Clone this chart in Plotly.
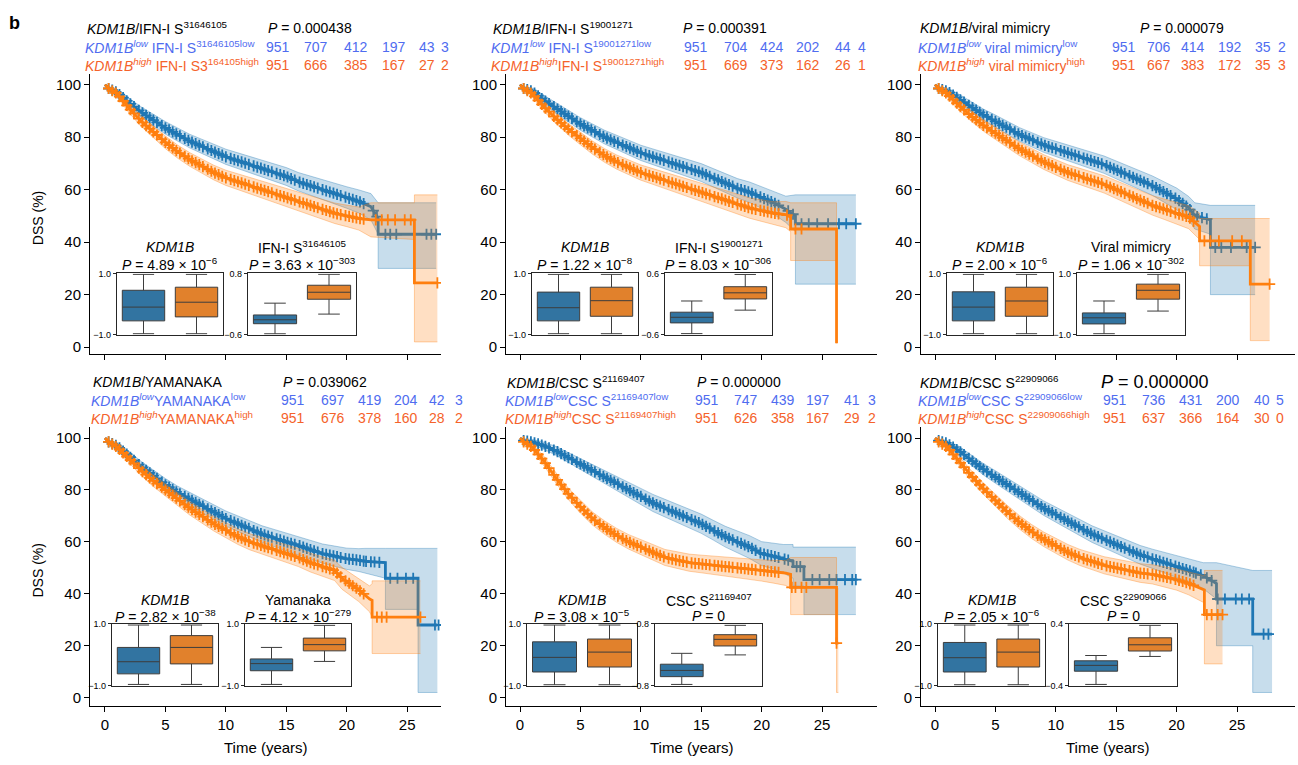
import numpy as np
import plotly.graph_objects as go

W, H = 1298, 765
FONT = "Liberation Sans, Arial, Helvetica, sans-serif"
KM_BLUE, KM_ORANGE = "#1f77b4", "#ff7f0e"
BAND_BLUE, BAND_ORANGE = "rgba(31,119,180,0.25)", "rgba(255,127,14,0.25)"
EDGE_BLUE, EDGE_ORANGE = "rgba(31,119,180,0.35)", "rgba(255,127,14,0.35)"
BOX_BLUE, BOX_ORANGE = "#3274a1", "#e1812c"
TXT_BLUE, TXT_ORANGE = "#4f6cf0", "#f5622a"

# ---------------- Kaplan-Meier data (time in years, DSS %) ----------------
BODY_CENSOR = [0.3, 0.6, 0.9, 1.2, 1.5, 1.8, 2.1, 2.4, 2.8, 3.1, 3.4, 3.7, 4.0, 4.3, 4.7, 5.0,
               5.3, 5.6, 5.9, 6.2, 6.6, 6.9, 7.2, 7.5, 7.8, 8.1, 8.5, 8.8, 9.1, 9.4, 9.7, 10.0,
               10.4, 10.7, 11.0, 11.3, 11.6, 11.9, 12.3, 12.6, 12.9, 13.2, 13.5, 13.8, 14.2,
               14.5, 14.8, 15.1, 15.4, 15.7, 16.1, 16.4, 16.7, 17.0, 17.3, 17.6, 18.0, 18.3,
               18.6, 18.9, 19.2, 19.5, 19.9, 20.2, 20.5, 20.8, 21.1, 21.4]

# Panel 1: IFN-I S31646105
P1_LOW_T = [0, .3, 1, 2, 3, 4, 5, 6, 7, 8, 9, 10, 11, 12, 13, 14, 15, 16, 17, 18, 19, 20, 21, 22, 22.6, 22.6, 27.4]
P1_LOW_S = [100, 98.5, 97, 93, 89.5, 86.5, 83.5, 81, 78.5, 76.5, 74.5, 72.5, 71, 69.5, 68, 66.5, 65, 63, 61.5, 60, 58.5, 57, 55.5, 53.5, 49, 43, 43]
P1_LOW_LO = [100, 97.7, 95.8, 91.2, 87.5, 84.3, 81.1, 78.5, 75.9, 73.8, 71.7, 69.6, 68, 66.4, 64.8, 63.2, 61.6, 59.5, 57.9, 56.3, 54.6, 52.9, 51.1, 48.5, 43, 30, 30]
P1_LOW_HI = [100, 99.3, 98.2, 94.8, 91.5, 88.7, 85.9, 83.5, 81.1, 79.2, 77.3, 75.4, 74, 72.6, 71.2, 69.8, 68.4, 66.5, 65.1, 63.7, 62.4, 61.1, 59.9, 58.5, 55, 55, 55]
P1_LOW_TAILC = [22.2, 22.5, 23.2, 23.6, 24.1, 26.6, 27.0, 27.4]
P1_HIGH_T = [0, .3, 1, 2, 3, 4, 5, 6, 7, 8, 9, 10, 11, 12, 13, 14, 15, 16, 17, 18, 19, 20, 21, 22, 25.6, 25.6, 27.5]
P1_HIGH_S = [100, 98.5, 96.5, 91, 86, 82, 78, 74.5, 71.5, 69, 66.5, 64.5, 63, 61.5, 60, 58.5, 57, 55.5, 54, 52.5, 51, 50, 49, 48.5, 48.5, 24.5, 24.5]
P1_HIGH_LO = [100, 97.7, 95.3, 89.2, 84, 79.8, 75.6, 72, 68.9, 66.3, 63.7, 61.6, 60, 58.4, 56.8, 55.2, 53.6, 52, 50.4, 48.8, 47.1, 45.9, 44.6, 42, 41, 2, 2]
P1_HIGH_HI = [100, 99.3, 97.7, 92.8, 88, 84.2, 80.4, 77, 74.1, 71.7, 69.3, 67.4, 66, 64.6, 63.2, 61.8, 60.4, 59, 57.6, 56.2, 54.9, 54.1, 53.4, 55, 55, 58, 58]
P1_HIGH_TAILC = [22.4, 22.9, 23.4, 24.0, 24.8, 25.3, 27.5]

# Panel 2: IFN-I S19001271
P2_LOW_T = [0, .3, 1, 2, 3, 4, 5, 6, 7, 8, 9, 10, 11, 12, 13, 14, 15, 16, 17, 18, 19, 20, 21, 22, 22.8, 22.8, 27.8]
P2_LOW_S = [100, 98.5, 97.5, 94, 91, 88, 85, 82.5, 80, 78, 76, 74, 72.5, 71, 69.5, 68, 66.5, 64.5, 62.5, 60.5, 59, 57, 55, 52.5, 50, 47, 47]
P2_LOW_LO = [100, 97.7, 96.3, 92.2, 89, 85.8, 82.6, 80, 77.4, 75.3, 73.2, 71.1, 69.5, 67.9, 66.3, 64.7, 63.1, 61, 58.9, 56.8, 55.1, 52.9, 50.6, 47.5, 44, 24, 24]
P2_LOW_HI = [100, 99.3, 98.7, 95.8, 93, 90.2, 87.4, 85, 82.6, 80.7, 78.8, 76.9, 75.5, 74.1, 72.7, 71.3, 69.9, 68, 66.1, 64.2, 62.9, 61.1, 59.4, 57.5, 58, 58, 58]
P2_LOW_TAILC = [22.2, 22.6, 23.3, 23.9, 24.6, 25.5, 26.4, 27.0, 27.8]
P2_HIGH_T = [0, .3, 1, 2, 3, 4, 5, 6, 7, 8, 9, 10, 11, 12, 13, 14, 15, 16, 17, 18, 19, 20, 21, 22, 22.4, 22.4, 26.2, 26.2]
P2_HIGH_S = [100, 98.5, 96.5, 91.5, 87, 83, 79.5, 76, 73, 70.5, 68.5, 66.5, 65, 63.5, 62, 60.5, 59, 57.5, 56, 54.5, 53, 52, 51, 50.5, 49.5, 45, 45, 1.5]
P2_HIGH_LO = [100, 97.7, 95.3, 89.7, 85, 80.8, 77.1, 73.5, 70.4, 67.8, 65.7, 63.6, 62, 60.4, 58.8, 57.2, 55.6, 54, 52.4, 50.8, 49.1, 47.9, 46.6, 45.5, 44, 33, 33, 1.5]
P2_HIGH_HI = [100, 99.3, 97.7, 93.3, 89, 85.2, 81.9, 78.5, 75.6, 73.2, 71.3, 69.4, 68, 66.6, 65.2, 63.8, 62.4, 61, 59.6, 58.2, 56.9, 56.1, 55.4, 55.5, 55, 55, 55, 1.5]
P2_HIGH_TAILC = [22.1, 22.8, 23.3]

# Panel 3: viral mimicry
P3_LOW_T = [0, .3, 1, 2, 3, 4, 5, 6, 7, 8, 9, 10, 11, 12, 13, 14, 15, 16, 17, 18, 19, 20, 21, 21.5, 22.8, 22.8, 26.5]
P3_LOW_S = [100, 98.5, 97.5, 94.5, 91.5, 88.5, 86, 83.5, 81, 79, 77, 75.5, 74, 72.5, 71, 69.5, 67.5, 65.5, 63.5, 61.5, 59, 56.5, 53, 50, 48.5, 38, 38]
P3_LOW_LO = [100, 97.7, 96.3, 92.7, 89.5, 86.3, 83.6, 81, 78.4, 76.3, 74.2, 72.6, 71, 69.4, 67.8, 66.2, 64.1, 62, 59.9, 57.8, 55.1, 52.4, 48.6, 45, 43, 20, 20]
P3_LOW_HI = [100, 99.3, 98.7, 96.3, 93.5, 90.7, 88.4, 86, 83.6, 81.7, 79.8, 78.4, 77, 75.6, 74.2, 72.8, 70.9, 69, 67.1, 65.2, 62.9, 60.6, 57.4, 55, 54, 54, 54]
P3_LOW_TAILC = [21.7, 22.1, 22.5, 23.2, 23.7, 24.5, 25.8, 26.5]
P3_HIGH_T = [0, .3, 1, 2, 3, 4, 5, 6, 7, 8, 9, 10, 11, 12, 13, 14, 15, 16, 17, 18, 19, 20, 21, 21.9, 21.9, 26.1, 26.1, 27.7]
P3_HIGH_S = [100, 98.5, 96.5, 92, 88, 84.5, 81.5, 78.5, 75.5, 73, 70.5, 68.5, 66.5, 65, 63.5, 62, 60, 58, 56, 54, 52.5, 51, 49.5, 46, 40.5, 40.5, 24, 24]
P3_HIGH_LO = [100, 97.7, 95.3, 90.2, 86, 82.3, 79.1, 76, 72.9, 70.3, 67.7, 65.6, 63.5, 61.9, 60.3, 58.7, 56.6, 54.5, 52.4, 50.3, 48.6, 46.9, 45.1, 41, 31, 31, 2.5, 2.5]
P3_HIGH_HI = [100, 99.3, 97.7, 93.8, 90, 86.7, 83.9, 81, 78.1, 75.7, 73.3, 71.4, 69.5, 68.1, 66.7, 65.3, 63.4, 61.5, 59.6, 57.7, 56.4, 55.1, 53.9, 51, 49, 49, 49, 49]
P3_HIGH_TAILC = [22.3, 22.8, 23.5, 24.6, 25.4, 27.7]

# Panel 4: YAMANAKA
P4_LOW_T = [0, .3, 1, 2, 3, 4, 5, 6, 7, 8, 9, 10, 11, 12, 13, 14, 15, 16, 17, 18, 19, 20, 21, 21.5, 23.2, 23.2, 25.9, 25.9, 27.5]
P4_LOW_S = [100, 98.5, 97, 93, 89, 85.5, 82, 79, 76.5, 74, 71.5, 69, 67, 65, 63, 61.5, 60, 58.7, 57, 55.5, 54.5, 53.5, 53, 52.5, 52, 46, 46, 28, 28]
P4_LOW_LO = [100, 97.7, 95.8, 91.2, 87, 83.3, 79.6, 76.5, 73.9, 71.3, 68.7, 66.1, 64, 61.9, 59.8, 58.2, 56.6, 55.2, 53.4, 51.8, 50.6, 49.4, 48.6, 48, 46, 34, 34, 2, 2]
P4_LOW_HI = [100, 99.3, 98.2, 94.8, 91, 87.7, 84.4, 81.5, 79.1, 76.7, 74.3, 71.9, 70, 68.1, 66.2, 64.8, 63.4, 62.2, 60.6, 59.2, 58.4, 57.6, 57.4, 57.5, 57.5, 57.5, 57.5, 57.5, 57.5]
P4_LOW_TAILC = [21.6, 22.0, 22.3, 22.7, 23.6, 24.2, 24.9, 25.5, 27.3, 27.6]
P4_HIGH_T = [0, .3, 1, 2, 3, 4, 5, 6, 7, 8, 9, 10, 11, 12, 13, 14, 15, 16, 17, 18, 19, 19.6, 21, 21.9, 22.1, 22.1, 26.1]
P4_HIGH_S = [100, 98.5, 96.5, 92, 87.5, 83.5, 80, 76.5, 73, 70, 67, 64.5, 62, 60, 58.5, 57, 55.5, 54, 52, 50.5, 49, 46, 41.5, 38, 37.5, 31, 31]
P4_HIGH_LO = [100, 97.7, 95.3, 90.2, 85.5, 81.3, 77.6, 74, 70.4, 67.3, 64.2, 61.6, 59, 56.9, 55.3, 53.7, 52.1, 50.5, 48.4, 46.8, 45.1, 41.8, 37, 33, 31, 17, 17]
P4_HIGH_HI = [100, 99.3, 97.7, 93.8, 89.5, 85.7, 82.4, 79, 75.6, 72.7, 69.8, 67.4, 65, 63.1, 61.7, 60.3, 58.9, 57.5, 55.6, 54.2, 52.9, 50.2, 46, 43, 44, 45, 45]
P4_HIGH_TAILC = [22.5, 22.9, 23.3, 26.1]

# Panel 5: CSC S21169407
P5_LOW_T = [0, .3, 1, 2, 3, 4, 5, 6, 7, 8, 9, 10, 11, 12, 13, 14, 15, 16, 17, 18, 19, 20, 21, 21.8, 22.6, 22.6, 23.5, 23.5, 27.8]
P5_LOW_S = [100, 99, 98.5, 97, 95, 92.5, 90, 87.5, 85, 82.5, 80, 77.5, 75, 73, 71, 69, 67, 64.5, 62, 60, 58, 55.5, 54.5, 53.5, 52.5, 50.5, 50.5, 45.5, 45.5]
P5_LOW_LO = [100, 98.3, 97.5, 95.6, 93.3, 90.6, 87.9, 85.2, 82.5, 79.8, 77.1, 74.4, 71.7, 69.6, 67.5, 65.4, 63.3, 60.7, 58, 55.8, 53.6, 50.9, 49.5, 48, 46, 43, 43, 32, 32]
P5_LOW_HI = [100, 99.7, 99.5, 98.4, 96.7, 94.4, 92.1, 89.8, 87.5, 85.2, 82.9, 80.6, 78.3, 76.4, 74.5, 72.6, 70.7, 68.3, 66, 64.2, 62.4, 60.1, 59.5, 59, 59, 58, 58, 58, 58]
P5_LOW_TAILC = [21.9, 22.2, 22.9, 23.2, 24.2, 24.8, 25.6, 26.2, 26.9, 27.5, 27.8]
P5_HIGH_T = [0, .3, 1, 2, 3, 4, 5, 6, 7, 8, 9, 10, 11, 12, 13, 14, 15, 16, 17, 18, 19, 20, 21, 22, 22.4, 22.4, 26.2, 26.2, 26.35]
P5_HIGH_S = [100, 98.5, 96.5, 91, 84.5, 78.5, 73.5, 69, 65.5, 62.5, 60, 58, 56, 54, 53, 52, 51.5, 51, 50.5, 50, 49.5, 49, 48.5, 48, 47.5, 42.5, 42.5, 21, 21]
P5_HIGH_LO = [100, 97.7, 95.3, 89.2, 82.5, 76.3, 71.1, 66.5, 62.9, 59.8, 57.2, 55.1, 53, 50.9, 49.8, 48.7, 48.1, 47.5, 46.9, 46.3, 45.6, 44.9, 44.1, 43.2, 42, 32, 32, 2, 2]
P5_HIGH_HI = [100, 99.3, 97.7, 92.8, 86.5, 80.7, 75.9, 71.5, 68.1, 65.2, 62.8, 60.9, 59, 57.1, 56.2, 55.3, 54.9, 54.5, 54.1, 53.7, 53.4, 53.1, 52.9, 52.8, 54, 54, 54, 42, 42]
P5_HIGH_TAILC = [22.5, 22.8, 23.3, 23.7, 26.2]

# Panel 6: CSC S22909066
P6_LOW_T = [0, .3, 1, 2, 3, 4, 5, 6, 7, 8, 9, 10, 11, 12, 13, 14, 15, 16, 17, 18, 19, 20, 21, 22.2, 23.3, 23.3, 26.3, 26.3, 27.9]
P6_LOW_S = [100, 99, 98, 95, 91.5, 88, 85, 82, 79, 76, 73, 70.5, 68, 65.5, 63, 61, 59, 57, 55, 53.5, 52, 50.5, 49, 47, 44, 38, 38, 24.5, 24.5]
P6_LOW_LO = [100, 98.3, 97, 93.2, 89.5, 85.8, 82.6, 79.5, 76.4, 73.3, 70.2, 67.6, 65, 62.4, 59.8, 57.7, 55.6, 53.5, 51.4, 49.8, 48.1, 46.4, 44.6, 42, 38, 20, 20, 2, 2]
P6_LOW_HI = [100, 99.7, 99, 96.8, 93.5, 90.2, 87.4, 84.5, 81.6, 78.7, 75.8, 73.4, 71, 68.6, 66.2, 64.3, 62.4, 60.5, 58.6, 57.2, 55.9, 54.6, 53.4, 52, 52, 52, 49, 49, 49]
P6_LOW_TAILC = [21.6, 22.0, 22.5, 22.9, 23.4, 24.0, 24.9, 25.4, 26.0, 27.2, 27.6]
P6_HIGH_T = [0, .3, 1, 2, 3, 4, 5, 6, 7, 8, 9, 10, 11, 12, 13, 14, 15, 16, 17, 18, 19, 20, 21, 22.3, 22.3, 23.8]
P6_HIGH_S = [100, 98.5, 96.5, 91, 85.5, 80.5, 76, 71.5, 67.5, 64, 61, 58.5, 56, 54, 52.5, 51, 50, 49, 48, 47.5, 46.5, 45.5, 44, 41.5, 32, 32]
P6_HIGH_LO = [100, 97.7, 95.3, 89.2, 83.5, 78.3, 73.6, 69, 64.9, 61.3, 58.2, 55.6, 53, 50.9, 49.3, 47.7, 46.6, 45.5, 44.4, 43.8, 42.6, 41.4, 39.6, 36.5, 13, 13]
P6_HIGH_HI = [100, 99.3, 97.7, 92.8, 87.5, 82.7, 78.4, 74, 70.1, 66.7, 63.8, 61.4, 59, 57.1, 55.7, 54.3, 53.4, 52.5, 51.6, 51.2, 50.4, 49.6, 48.4, 47, 49, 49]
P6_HIGH_TAILC = [22.5, 22.9, 23.4, 23.8]

# ---------------- inset box-plot data: [q1, median, q3, lower whisker, upper whisker] ----------------
P1_KDM_LOW, P1_KDM_HIGH = [-0.55, -0.10, 0.45, -0.97, 0.97], [-0.42, 0.06, 0.55, -0.97, 0.97]
P1_SIG_LOW, P1_SIG_HIGH = [-0.35, -0.26, -0.15, -0.58, 0.12], [0.21, 0.37, 0.53, -0.13, 0.78]
P2_KDM_LOW, P2_KDM_HIGH = [-0.55, -0.12, 0.39, -0.97, 0.97], [-0.40, 0.11, 0.55, -0.97, 0.97]
P2_SIG_LOW, P2_SIG_HIGH = [-0.37, -0.26, -0.16, -0.58, 0.06], [0.10, 0.22, 0.34, -0.12, 0.58]
P3_KDM_LOW, P3_KDM_HIGH = [-0.55, -0.10, 0.40, -0.97, 0.97], [-0.40, 0.10, 0.55, -0.97, 0.97]
P3_SIG_LOW, P3_SIG_HIGH = [-0.65, -0.45, -0.29, -0.97, 0.10], [0.16, 0.45, 0.65, -0.23, 0.97]
P4_KDM_LOW, P4_KDM_HIGH = [-0.61, -0.22, 0.24, -0.95, 0.96], [-0.29, 0.24, 0.62, -0.95, 0.96]
P4_SIG_LOW, P4_SIG_HIGH = [-0.51, -0.28, -0.13, -0.95, 0.24], [0.13, 0.33, 0.54, -0.21, 0.95]
P5_KDM_LOW, P5_KDM_HIGH = [-0.55, -0.08, 0.42, -0.96, 0.96], [-0.39, 0.09, 0.51, -0.96, 0.96]
P5_SIG_LOW, P5_SIG_HIGH = [-0.56, -0.40, -0.24, -0.76, 0.04], [0.23, 0.40, 0.52, 0.00, 0.76]
P6_KDM_LOW, P6_KDM_HIGH = [-0.55, -0.09, 0.40, -0.96, 0.96], [-0.39, 0.09, 0.51, -0.96, 0.96]
P6_SIG_LOW, P6_SIG_HIGH = [-0.21, -0.135, -0.076, -0.38, -0.008], [0.05, 0.13, 0.22, -0.02, 0.38]
SIG_YLIM = [(-0.6, 0.8), (-0.6, 0.6), (-1.0, 1.0), (-1.0, 1.0), (-0.8, 0.8), (-0.4, 0.4)]
SIG_TICKTEXT = [("−0.6", "0.8"), ("−0.6", "0.6"), ("−1.0", "1.0"), ("−1.0", "1.0"), ("−0.8", "0.8"), ("−0.4", "0.4")]

# ---------------- text ----------------
TITLES = ["<i>KDM1B</i>/IFN-I S<sup>31646105</sup>", "<i>KDM1B</i>/IFN-I S<sup>19001271</sup>",
          "<i>KDM1B</i>/viral mimicry", "<i>KDM1B</i>/YAMANAKA",
          "<i>KDM1B</i>/CSC S<sup>21169407</sup>", "<i>KDM1B</i>/CSC S<sup>22909066</sup>"]
PVALUES = ["0.000438", "0.000391", "0.000079", "0.039062", "0.000000", "0.000000"]
LOW_LABELS = ["<i>KDM1B</i><sup><i>low</i></sup> IFN-I S<sup>31646105low</sup>",
              "<i>KDM1</i><sup><i>low</i></sup> IFN-I S<sup>19001271low</sup>",
              "<i>KDM1B</i><sup><i>low</i></sup> viral mimicry<sup>low</sup>",
              "<i>KDM1B</i><sup><i>low</i></sup>YAMANAKA<sup>low</sup>",
              "<i>KDM1B</i><sup><i>low</i></sup>CSC S<sup>21169407low</sup>",
              "<i>KDM1B</i><sup><i>low</i></sup>CSC S<sup>22909066low</sup>"]
HIGH_LABELS = ["<i>KDM1B</i><sup><i>high</i></sup> IFN-I S3<sup>164105high</sup>",
               "<i>KDM1B</i><sup><i>high</i></sup>IFN-I S<sup>19001271high</sup>",
               "<i>KDM1B</i><sup><i>high</i></sup> viral mimicry<sup>high</sup>",
               "<i>KDM1B</i><sup><i>high</i></sup>YAMANAKA<sup>high</sup>",
               "<i>KDM1B</i><sup><i>high</i></sup>CSC S<sup>21169407high</sup>",
               "<i>KDM1B</i><sup><i>high</i></sup>CSC S<sup>22909066high</sup>"]
N_LOW = [[951, 707, 412, 197, 43, 3], [951, 704, 424, 202, 44, 4], [951, 706, 414, 192, 35, 2],
         [951, 697, 419, 204, 42, 3], [951, 747, 439, 197, 41, 3], [951, 736, 431, 200, 40, 5]]
N_HIGH = [[951, 666, 385, 167, 27, 2], [951, 669, 373, 162, 26, 1], [951, 667, 383, 172, 35, 3],
          [951, 676, 378, 160, 28, 2], [951, 626, 358, 167, 29, 2], [951, 637, 366, 164, 30, 0]]
KDM_P = ["4.89 × 10<sup>−6</sup>", "1.22 × 10<sup>−8</sup>", "2.00 × 10<sup>−6</sup>",
         "2.82 × 10<sup>−38</sup>", "3.08 × 10<sup>−5</sup>", "2.05 × 10<sup>−6</sup>"]
SIG_NAMES = ["IFN-I S<sup>31646105</sup>", "IFN-I S<sup>19001271</sup>", "Viral mimicry",
             "Yamanaka", "CSC S<sup>21169407</sup>", "CSC S<sup>22909066</sup>"]
SIG_P = ["3.63 × 10<sup>−303</sup>", "8.03 × 10<sup>−306</sup>", "1.06 × 10<sup>−302</sup>",
         "4.12 × 10<sup>−279</sup>", "0", "0"]

CURVES = [
    (P1_LOW_T, P1_LOW_S, P1_LOW_LO, P1_LOW_HI, P1_LOW_TAILC, P1_HIGH_T, P1_HIGH_S, P1_HIGH_LO, P1_HIGH_HI, P1_HIGH_TAILC),
    (P2_LOW_T, P2_LOW_S, P2_LOW_LO, P2_LOW_HI, P2_LOW_TAILC, P2_HIGH_T, P2_HIGH_S, P2_HIGH_LO, P2_HIGH_HI, P2_HIGH_TAILC),
    (P3_LOW_T, P3_LOW_S, P3_LOW_LO, P3_LOW_HI, P3_LOW_TAILC, P3_HIGH_T, P3_HIGH_S, P3_HIGH_LO, P3_HIGH_HI, P3_HIGH_TAILC),
    (P4_LOW_T, P4_LOW_S, P4_LOW_LO, P4_LOW_HI, P4_LOW_TAILC, P4_HIGH_T, P4_HIGH_S, P4_HIGH_LO, P4_HIGH_HI, P4_HIGH_TAILC),
    (P5_LOW_T, P5_LOW_S, P5_LOW_LO, P5_LOW_HI, P5_LOW_TAILC, P5_HIGH_T, P5_HIGH_S, P5_HIGH_LO, P5_HIGH_HI, P5_HIGH_TAILC),
    (P6_LOW_T, P6_LOW_S, P6_LOW_LO, P6_LOW_HI, P6_LOW_TAILC, P6_HIGH_T, P6_HIGH_S, P6_HIGH_LO, P6_HIGH_HI, P6_HIGH_TAILC),
]
BOXES = [(P1_KDM_LOW, P1_KDM_HIGH, P1_SIG_LOW, P1_SIG_HIGH), (P2_KDM_LOW, P2_KDM_HIGH, P2_SIG_LOW, P2_SIG_HIGH),
         (P3_KDM_LOW, P3_KDM_HIGH, P3_SIG_LOW, P3_SIG_HIGH), (P4_KDM_LOW, P4_KDM_HIGH, P4_SIG_LOW, P4_SIG_HIGH),
         (P5_KDM_LOW, P5_KDM_HIGH, P5_SIG_LOW, P5_SIG_HIGH), (P6_KDM_LOW, P6_KDM_HIGH, P6_SIG_LOW, P6_SIG_HIGH)]

# ---------------- layout geometry (pixels) ----------------
MAIN_X_PX = [(90, 441), (506, 877), (921, 1295)]
MAIN_X_RANGE = [(-1.24, 27.8), (-1.16, 29.55), (-1.16, 29.8)]
MAIN_Y_PX = [(70, 354), (428, 710)]
MAIN_Y_RANGE = [(-2.74, 104.0), (-3.1, 104.1)]
INSET_Y_PX = [(272, 334), (627, 690)]
INSET_X_PX = [((117, 223), (248, 356)), ((532, 638), (665, 772)), ((947, 1053), (1077, 1185)),
              ((112, 218), (245, 351)), ((527, 637), (655, 762)), ((938, 1045), (1069, 1177))]
HEAD_Y = [(23, 43, 61), (382, 400, 418)]
HEAD_X = [(86, 267), (492, 682), (919, 1139), (92, 282), (506, 696), (919, 1100)]
NUM_X = [(278, 316, 356, 394, 427, 445), (696, 736, 772, 808, 843, 862), (1124, 1159, 1193, 1230, 1263, 1282),
         (293, 333, 370, 406, 437, 459), (707, 746, 783, 818, 852, 872), (1115, 1154, 1191, 1228, 1262, 1280)]


def fx(px):
    return px / W


def fy(py):
    return 1 - py / H


def axname(k):
    return "" if k == 1 else str(k)


fig = go.Figure()
layout = dict(width=W, height=H, margin=dict(l=0, r=0, t=0, b=0), paper_bgcolor="white",
              plot_bgcolor="rgba(0,0,0,0)", showlegend=False, font=dict(family=FONT, color="black"))
annotations = []


def ann(x, y, text, size=14, color="black", xanchor="left", **kw):
    annotations.append(dict(x=fx(x), y=fy(y), xref="paper", yref="paper", text=text, showarrow=False,
                            font=dict(size=size, color=color, family=FONT), xanchor=xanchor,
                            yanchor="middle", borderpad=0, **kw))


def add_curve(k, T, S, LO, HI, tailc, color, band, edge):
    xa, ya = "x" + axname(k), "y" + axname(k)
    fig.add_trace(go.Scatter(x=T, y=LO, mode="lines", line=dict(color=edge, width=1), xaxis=xa, yaxis=ya,
                             hoverinfo="skip"))
    fig.add_trace(go.Scatter(x=T, y=HI, mode="lines", line=dict(color=edge, width=1), fill="tonexty",
                             fillcolor=band, xaxis=xa, yaxis=ya, hoverinfo="skip"))
    fig.add_trace(go.Scatter(x=T, y=S, mode="lines", line=dict(color=color, width=2.8), xaxis=xa, yaxis=ya))
    cens = [c for c in BODY_CENSOR if c < T[-1] - 1.0] + list(tailc)
    cy = np.interp(cens, T, S)
    fig.add_trace(go.Scatter(x=cens, y=cy, mode="markers", xaxis=xa, yaxis=ya,
                             marker=dict(symbol="cross-thin", size=8, line=dict(color=color, width=1.8))))


for p in range(6):
    r, c = divmod(p, 3)
    k = p + 1
    x0, x1 = MAIN_X_PX[c]
    y0, y1 = MAIN_Y_PX[r]
    layout["xaxis" + axname(k)] = dict(domain=[fx(x0), fx(x1)], range=list(MAIN_X_RANGE[c]), anchor="y" + axname(k),
                                       showline=True, linecolor="black", linewidth=1, ticks="outside", ticklen=5,
                                       tickcolor="black", tickvals=[0, 5, 10, 15, 20, 25], showgrid=False,
                                       zeroline=False, showticklabels=(r == 1), tickfont=dict(size=15))
    layout["yaxis" + axname(k)] = dict(domain=[fy(y1), fy(y0)], range=list(MAIN_Y_RANGE[r]), anchor="x" + axname(k),
                                       showline=True, linecolor="black", linewidth=1, ticks="outside", ticklen=5,
                                       tickcolor="black", tickvals=[0, 20, 40, 60, 80, 100], showgrid=False,
                                       zeroline=False, tickfont=dict(size=15))
    cv = CURVES[p]
    add_curve(k, cv[0], cv[1], cv[2], cv[3], cv[4], KM_BLUE, BAND_BLUE, EDGE_BLUE)
    add_curve(k, cv[5], cv[6], cv[7], cv[8], cv[9], KM_ORANGE, BAND_ORANGE, EDGE_ORANGE)

    # insets
    iy0, iy1 = INSET_Y_PX[r]
    for j in range(2):
        ki = 7 + 2 * p + j
        ix0, ix1 = INSET_X_PX[p][j]
        lo_lim, hi_lim = (-1.0, 1.0) if j == 0 else SIG_YLIM[p]
        tt = ("−1.0", "1.0") if j == 0 else SIG_TICKTEXT[p]
        layout["xaxis" + axname(ki)] = dict(domain=[fx(ix0), fx(ix1)], range=[-0.5, 1.5], anchor="y" + axname(ki),
                                            showline=True, mirror=True, linecolor="#262626", linewidth=1.2,
                                            showticklabels=False, ticks="", showgrid=False, zeroline=False)
        layout["yaxis" + axname(ki)] = dict(domain=[fy(iy1), fy(iy0)], range=[lo_lim, hi_lim], anchor="x" + axname(ki),
                                            showline=True, mirror=True, linecolor="#262626", linewidth=1.2,
                                            tickvals=[lo_lim, hi_lim], ticktext=list(tt), ticks="outside",
                                            ticklen=3, tickcolor="#262626", tickfont=dict(size=9),
                                            showgrid=False, zeroline=False)
        low_b, high_b = (BOXES[p][0], BOXES[p][1]) if j == 0 else (BOXES[p][2], BOXES[p][3])
        for xi, bx, col in ((0, low_b, BOX_BLUE), (1, high_b, BOX_ORANGE)):
            fig.add_trace(go.Box(x=[xi], q1=[bx[0]], median=[bx[1]], q3=[bx[2]], lowerfence=[bx[3]],
                                 upperfence=[bx[4]], width=0.8, whiskerwidth=0.5, fillcolor=col,
                                 line=dict(color="#3d3d3d", width=1), boxpoints=False,
                                 xaxis="x" + axname(ki), yaxis="y" + axname(ki), hoverinfo="skip"))
        cx = (ix0 + ix1) / 2
        t_y1, t_y2 = (245, 262) if r == 0 else (603, 619)
        if j == 0:
            ann(cx, t_y1, "<i>KDM1B</i>", size=14, xanchor="center")
            ann(cx, t_y2, "<i>P</i> = " + KDM_P[p], size=14, xanchor="center")
        else:
            ann(cx, t_y1, SIG_NAMES[p], size=14, xanchor="center")
            ann(cx, t_y2, "<i>P</i> = " + SIG_P[p], size=14, xanchor="center")

    # header text
    hy = HEAD_Y[r]
    hx, px_ = HEAD_X[p]
    ann(hx, hy[0], TITLES[p], size=14)
    ann(px_, hy[0], "<i>P</i> = " + PVALUES[p], size=(18 if p == 5 else 14))
    ann(hx - 2, hy[1], LOW_LABELS[p], size=14, color=TXT_BLUE)
    ann(hx - 2, hy[2], HIGH_LABELS[p], size=14, color=TXT_ORANGE)
    for xi, nl, nh in zip(NUM_X[p], N_LOW[p], N_HIGH[p]):
        ann(xi, hy[1], str(nl), size=14, color=TXT_BLUE, xanchor="center")
        ann(xi, hy[2], str(nh), size=14, color=TXT_ORANGE, xanchor="center")

    if r == 1:
        ann((x0 + x1) / 2, 752, "Time (years)", size=15, xanchor="center")
    if c == 0:
        ann(38, (y0 + y1) / 2 + 4, "DSS (%)", size=14, xanchor="center", textangle=-90)

ann(8, 18, "<b>b</b>", size=18)
layout["annotations"] = annotations
fig.update_layout(**layout)
fig.write_html("out.html", config={"displayModeBar": False},
               post_script="document.body.style.margin='0px';document.body.style.overflow='hidden';")
